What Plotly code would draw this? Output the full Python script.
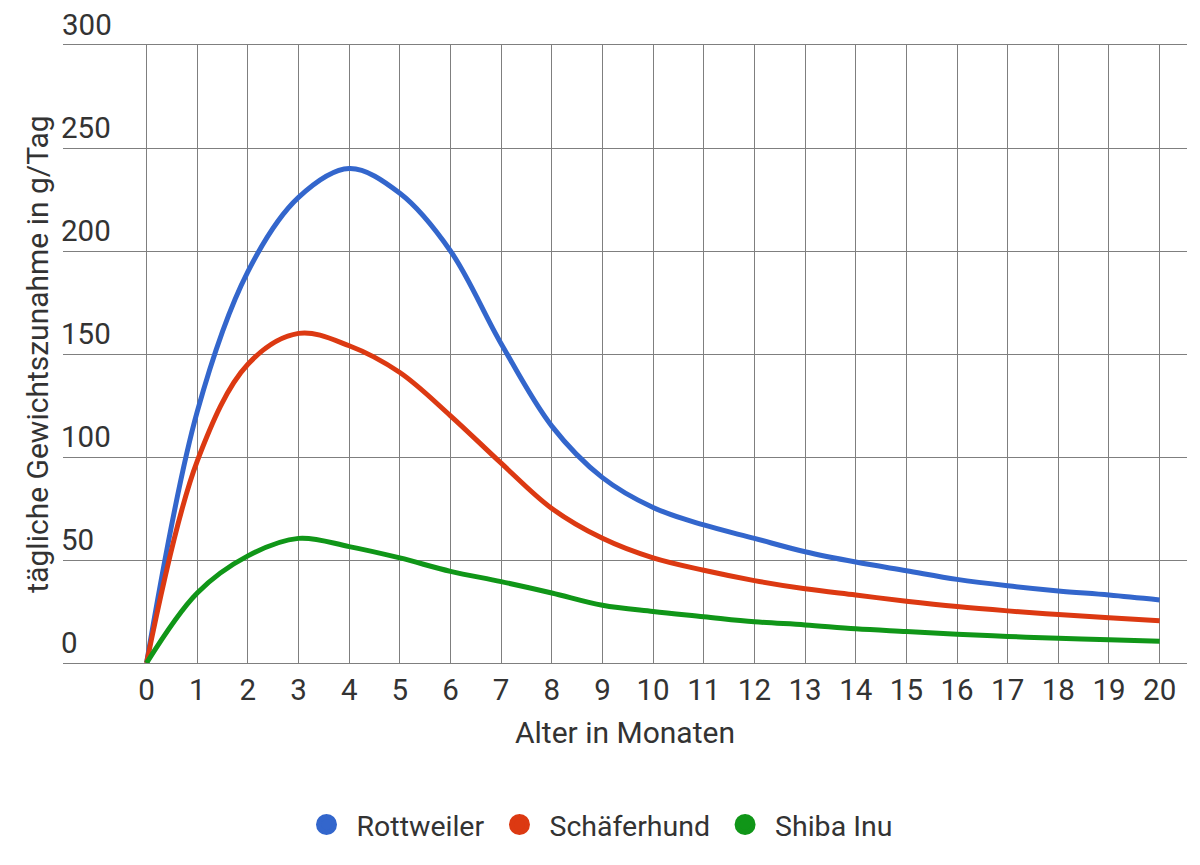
import plotly.graph_objects as go

# Monate 0..20 und tägliche Gewichtszunahme (g/Tag)
months = list(range(21))
rottweiler = [0, 122, 190, 226, 240, 228, 200, 155, 115, 90, 75.5, 67, 60.5, 54, 49, 44.8, 40.6, 37.5, 35, 33, 30.6]
schaeferhund = [0, 98, 145, 160, 154, 141, 120, 97, 75, 60.5, 51, 45, 40, 36, 33, 30, 27.4, 25.3, 23.5, 22, 20.5]
shiba_inu = [0, 34, 52, 60.5, 56.5, 51, 44.5, 39.5, 34, 28, 25, 22.5, 20, 18.5, 16.6, 15.3, 14, 12.9, 12, 11.3, 10.5]

series_names = ["Rottweiler", "Schäferhund", "Shiba Inu"]
series_values = [rottweiler, schaeferhund, shiba_inu]
colors = ["#3366cc", "#dc3912", "#109618"]

y_ticks = [0, 50, 100, 150, 200, 250, 300]

FONT = "Roboto, Arial, sans-serif"
TEXT_COLOR = "#333333"
GRID_COLOR = "#7f7f7f"
TICK_SIZE = 29.5
TITLE_SIZE = 30

# die Seite hat 8px Rand, daher Figur etwas kleiner
W, H = 1192, 857

fig = go.Figure()
for name, vals, col in zip(series_names, series_values, colors):
    fig.add_trace(go.Scatter(x=months, y=vals, mode="lines", name=name,
                             line=dict(color=col, width=5, shape="spline", smoothing=1.0),
                             showlegend=False, hoverinfo="x+y+name"))
    # Legendeneintrag als Kreis
    fig.add_trace(go.Scatter(x=[None], y=[None], mode="markers", name=name,
                             marker=dict(color=col, size=16, symbol="circle",
                                         line=dict(color=col, width=5)),
                             showlegend=True, hoverinfo="skip"))

fig.update_layout(
    width=W, height=H,
    margin=dict(l=55, r=13, t=37, b=202),
    paper_bgcolor="white", plot_bgcolor="white",
    font=dict(family=FONT, size=TICK_SIZE, color=TEXT_COLOR),
    legend=dict(orientation="h", xref="container", yref="container",
                x=589 / W, xanchor="center", y=1 - 817 / H, yanchor="middle",
                font=dict(size=28.5, color=TEXT_COLOR), itemwidth=50,
                bgcolor="rgba(0,0,0,0)"),
)

fig.update_xaxes(
    range=[-1.65, 20.54], automargin=False,
    tickmode="array", tickvals=months, ticktext=[str(m) for m in months],
    showgrid=True, gridcolor=GRID_COLOR, gridwidth=1,
    showline=True, mirror=True, linecolor=GRID_COLOR, linewidth=1,
    zeroline=False, ticks="",
    ticklabelstandoff=1,
    tickfont=dict(size=TICK_SIZE, color=TEXT_COLOR),
    title=dict(text="Alter in Monaten", font=dict(size=TITLE_SIZE, color=TEXT_COLOR), standoff=15),
)
fig.update_yaxes(
    range=[0, 300], automargin=False,
    tickmode="array", tickvals=y_ticks, ticktext=[str(v) for v in y_ticks],
    showgrid=True, gridcolor=GRID_COLOR, gridwidth=1,
    zeroline=False, showline=False, ticks="",
    ticklabelposition="inside top", ticklabelstandoff=-5,
    tickfont=dict(size=TICK_SIZE, color=TEXT_COLOR),
    title=dict(text="tägliche Gewichtszunahme in g/Tag", font=dict(size=TITLE_SIZE, color=TEXT_COLOR), standoff=3),
)

# oberste Achsenbeschriftung liegt über der Zeichenfläche und wird von Plotly ausgeblendet
fig.add_annotation(x=0, xref="paper", y=y_ticks[-1], yref="y",
                   text=str(y_ticks[-1]), showarrow=False,
                   xanchor="left", yanchor="bottom", xshift=-3, yshift=1,
                   font=dict(size=TICK_SIZE, color=TEXT_COLOR))

fig.write_html("out.html")
